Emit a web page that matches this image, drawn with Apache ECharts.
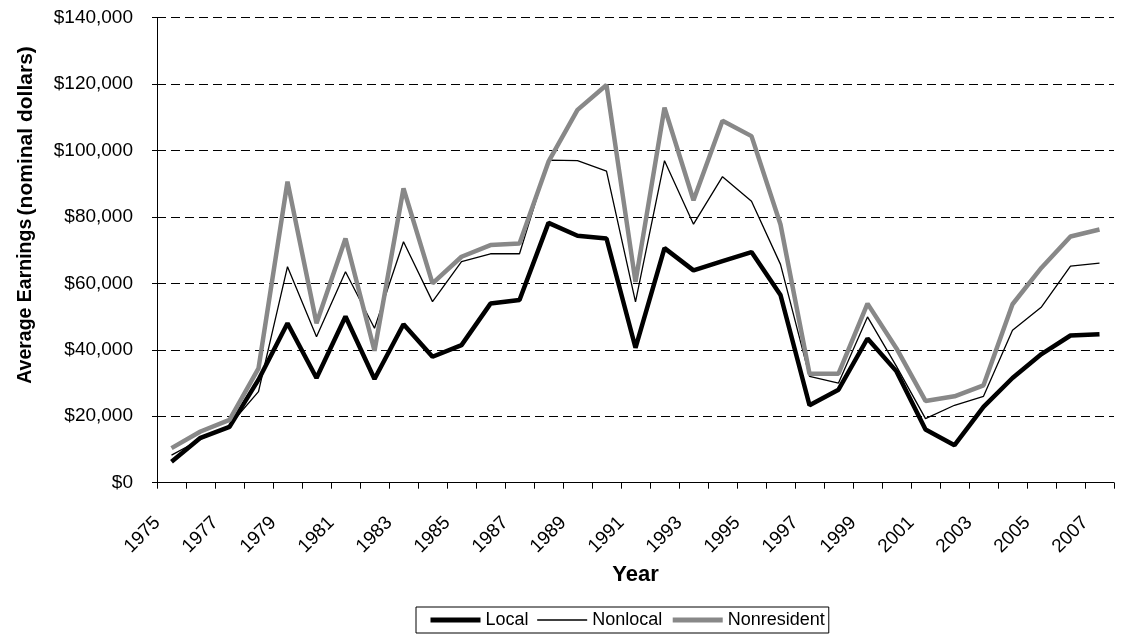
<!DOCTYPE html>
<html>
<head>
<meta charset="utf-8">
<script src="https://cdn.jsdelivr.net/npm/echarts@6/dist/echarts.min.js"></script>
<style>
html,body{margin:0;padding:0;background:#fff;}
#chart{width:1122px;height:635px;}
</style>
</head>
<body>
<div id="chart"></div>
<script>
const years = ['1975','1976','1977','1978','1979','1980','1981','1982','1983','1984','1985','1986','1987','1988','1989','1990','1991','1992','1993','1994','1995','1996','1997','1998','1999','2000','2001','2002','2003','2004','2005','2006','2007'];
const local = [6300,13500,16800,31000,48000,31500,50000,31200,47700,37900,41400,53900,55000,78200,74300,73500,40600,70600,63900,66700,69400,56500,23300,28000,43400,33500,16000,11300,22800,31500,38700,44300,44700];
const nonlocal = [8300,13000,17300,27400,65000,43900,63500,46500,72500,54500,66500,68900,68900,97100,96900,93800,54400,96900,77800,92100,84700,65700,32000,30000,49900,35000,19300,23300,26000,45900,52900,65200,66100];
const nonresident = [10400,15400,18900,34400,90600,48000,73500,39700,88600,60000,68000,71500,72000,96600,112200,119700,60400,112900,85000,108900,104300,77700,32800,32800,53900,40400,24600,26000,29300,53700,64700,74100,76200];

const chart = echarts.init(document.getElementById('chart'), null, {renderer:'canvas'});
const font = 'Arial, "Liberation Sans", sans-serif';
chart.setOption({
  animation:false,
  textStyle:{fontFamily:font},
  grid:{left:157,right:8,top:17.5,bottom:152.3,containLabel:false},
  xAxis:{
    type:'category',
    data:years,
    boundaryGap:true,
    axisLine:{lineStyle:{color:'#000',width:1}},
    axisTick:{show:true,interval:0,length:6,lineStyle:{color:'#000'}},
    axisLabel:{interval:1,rotate:45,color:'#000',fontSize:19,fontFamily:font,margin:23,padding:[0,20,0,0]},
    name:'Year',
    nameLocation:'middle',
    nameGap:80,
    nameTextStyle:{fontSize:22,fontWeight:'bold',color:'#000',fontFamily:font},
    splitLine:{show:false}
  },
  yAxis:{
    type:'value',
    min:0,max:140000,interval:20000,
    axisLine:{show:true,lineStyle:{color:'#000',width:1}},
    axisTick:{show:true,length:5,lineStyle:{color:'#000'}},
    axisLabel:{color:'#000',fontSize:19,fontFamily:font,margin:24,
      formatter:v=>'$'+v.toLocaleString('en-US')},
    splitLine:{show:true,lineStyle:{color:'#000',type:[9,5],width:1}}
  },
  legend:{
    left:416,top:607,
    orient:'horizontal',
    borderColor:'#000',borderWidth:1,borderRadius:0,
    padding:[4,4,4,12],
    itemGap:8,itemWidth:50,itemHeight:16,
    itemStyle:{opacity:0},
    textStyle:{fontSize:18,color:'#000',fontFamily:font},
    data:[
      {name:'Local',lineStyle:{width:5,color:'#000'}},
      {name:'Nonlocal',lineStyle:{width:1.3,color:'#000'}},
      {name:'Nonresident',lineStyle:{width:5,color:'#888'}}
    ]
  },
  graphic:[{
    type:'text',
    x:26,y:215,
    rotation:Math.PI/2,
    style:{
      text:'{a|Average Earnings} {b|(nominal dollars)}',
      align:'center',verticalAlign:'middle',
      fill:'#000',
      rich:{
        a:{fontSize:19.5,fontWeight:'bold',fontFamily:font,fill:'#000'},
        b:{fontSize:21,fontWeight:'bold',fontFamily:font,fill:'#000'}
      }
    }
  }],
  series:[
    {name:'Local',type:'line',data:local,showSymbol:false,symbol:'none',
      lineStyle:{color:'#000',width:4.5},itemStyle:{color:'#000'}},
    {name:'Nonlocal',type:'line',data:nonlocal,showSymbol:false,symbol:'none',
      lineStyle:{color:'#000',width:1.3},itemStyle:{color:'#000'}},
    {name:'Nonresident',type:'line',data:nonresident,showSymbol:false,symbol:'none',
      lineStyle:{color:'#888',width:4.5},itemStyle:{color:'#888'}}
  ]
});
</script>
</body>
</html>
